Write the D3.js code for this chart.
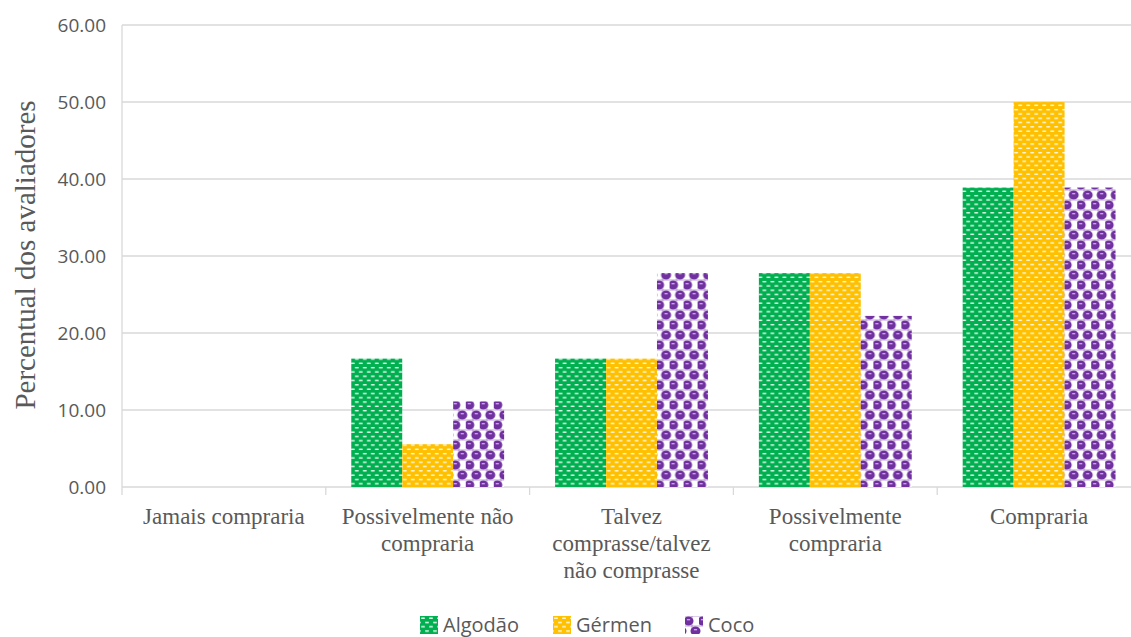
<!DOCTYPE html>
<html>
<head>
<meta charset="utf-8">
<script src="https://cdnjs.cloudflare.com/ajax/libs/d3/7.8.5/d3.min.js"></script>
<style>
  body { margin: 0; background: #fff; }
  svg { display: block; }
</style>
</head>
<body>
<script>
var width = 1131;
var height = 637;

var categories = ['Jamais compraria', 'Possivelmente não compraria', 'Talvez comprasse/talvez não comprasse', 'Possivelmente compraria', 'Compraria'];
var categoryLines = [['Jamais compraria'], ['Possivelmente não', 'compraria'], ['Talvez', 'comprasse/talvez', 'não comprasse'], ['Possivelmente', 'compraria'], ['Compraria']];
var seriesNames = ['Algodão', 'Gérmen', 'Coco'];
var algodao = [0, 16.67, 16.67, 27.78, 38.89];
var germen = [0, 5.56, 16.67, 27.78, 50.00];
var coco = [0, 11.11, 27.78, 22.22, 38.89];
var yTicks = [0, 10, 20, 30, 40, 50, 60];
var colors = ['#00b050', '#ffc000', '#7030a0'];

var seriesValues = [algodao, germen, coco];

var svg = d3.select('body').append('svg')
    .attr('width', width)
    .attr('height', height);

// patterns like the excel fills
var defs = svg.append('defs');

function dashPattern(id, color) {
  var p = defs.append('pattern')
      .attr('id', id)
      .attr('patternUnits', 'userSpaceOnUse')
      .attr('width', 8)
      .attr('height', 8.6);
  p.append('rect').attr('width', 8).attr('height', 8.6).attr('fill', color);
  [[1, 1.4], [5, 5.7], [-3, 5.7]].forEach(function(d) {
    p.append('rect')
        .attr('x', d[0]).attr('y', d[1])
        .attr('width', 4).attr('height', 1.5)
        .attr('rx', 0.7)
        .attr('fill', '#fff').attr('fill-opacity', 0.92);
  });
}
dashPattern('pat0', colors[0]);
dashPattern('pat1', colors[1]);

// sphere-like checkerboard for coco
var pc = defs.append('pattern')
    .attr('id', 'pat2')
    .attr('patternUnits', 'userSpaceOnUse')
    .attr('width', 14)
    .attr('height', 20);
pc.append('rect').attr('width', 14).attr('height', 20).attr('fill', '#fff');
var centers = [[3.5, 5], [10.5, 15], [-3.5, 15], [17.5, 15], [3.5, 25], [10.5, -5], [-3.5, -5], [17.5, -5], [-3.5, 25]];
// thin outline between the spheres
pc.append('path')
    .attr('d', 'M0,10H14M0,0H14M0,20H14M7,0V20')
    .attr('stroke', colors[2])
    .attr('stroke-opacity', 0.45)
    .attr('stroke-width', 1);
centers.forEach(function(d) {
  pc.append('ellipse')
      .attr('cx', d[0]).attr('cy', d[1])
      .attr('rx', 5).attr('ry', 4.5)
      .attr('fill', colors[2]);
  pc.append('rect')
      .attr('x', d[0] - 1.6).attr('y', d[1] - 1.8)
      .attr('width', 3.2).attr('height', 1.1)
      .attr('fill', '#fff').attr('fill-opacity', 0.7);
});

var plotLeft = 122, plotRight = 1141, plotTop = 25, plotBottom = 487;

var x0 = d3.scaleBand()
    .domain(categories)
    .range([plotLeft, plotRight]);

var x1 = d3.scaleBand()
    .domain(seriesNames)
    .range([x0.bandwidth() * 0.125, x0.bandwidth() * 0.875]);

var y = d3.scaleLinear()
    .domain([0, 60])
    .range([plotBottom, plotTop]);

// gridlines
svg.append('g')
  .selectAll('line')
  .data(yTicks)
  .enter().append('line')
    .attr('x1', plotLeft)
    .attr('x2', width)
    .attr('y1', function(d) { return y(d); })
    .attr('y2', function(d) { return y(d); })
    .attr('stroke', '#d9d9d9')
    .attr('stroke-width', 1.3);

// vertical axis line
svg.append('line')
    .attr('x1', plotLeft).attr('x2', plotLeft)
    .attr('y1', plotTop).attr('y2', plotBottom + 8)
    .attr('stroke', '#d9d9d9')
    .attr('stroke-width', 1.3);

// category separator ticks
svg.append('g')
  .selectAll('line')
  .data(categories.slice(1))
  .enter().append('line')
    .attr('x1', function(d) { return x0(d); })
    .attr('x2', function(d) { return x0(d); })
    .attr('y1', plotBottom)
    .attr('y2', plotBottom + 8)
    .attr('stroke', '#d9d9d9')
    .attr('stroke-width', 1.3);

// y tick labels
svg.append('g')
  .selectAll('text')
  .data(yTicks)
  .enter().append('text')
    .attr('x', 106)
    .attr('y', function(d) { return y(d); })
    .attr('dy', '0.35em')
    .attr('text-anchor', 'end')
    .style('font-family', '"Open Sans", sans-serif')
    .style('font-size', '19px')
    .attr('fill', '#595959')
    .text(function(d) { return d.toFixed(2); });

// bars
var groups = svg.append('g')
  .selectAll('g')
  .data(categories)
  .enter().append('g')
    .attr('transform', function(d) { return 'translate(' + x0(d) + ',0)'; });

groups.selectAll('rect')
  .data(function(d, i) {
    return seriesNames.map(function(s, j) { return {series: s, j: j, value: seriesValues[j][i]}; });
  })
  .enter().append('rect')
    .attr('x', function(d) { return x1(d.series); })
    .attr('y', function(d) { return y(d.value); })
    .attr('width', x1.bandwidth())
    .attr('height', function(d) { return y(0) - y(d.value); })
    .attr('fill', function(d) { return 'url(#pat' + d.j + ')'; });

// category labels
var catLabels = svg.append('g')
  .selectAll('text')
  .data(categories)
  .enter().append('text')
    .attr('text-anchor', 'middle')
    .attr('x', function(d) { return x0(d) + x0.bandwidth() / 2; })
    .attr('y', 524)
    .style('font-family', '"Liberation Serif", "Times New Roman", serif')
    .style('font-size', '23px')
    .attr('fill', '#595959');

catLabels.selectAll('tspan')
  .data(function(d, i) { return categoryLines[i]; })
  .enter().append('tspan')
    .attr('x', function() { return d3.select(this.parentNode).attr('x'); })
    .attr('dy', function(d, i) { return i === 0 ? 0 : 27; })
    .text(function(d) { return d; });

// y axis title
svg.append('text')
    .attr('transform', 'translate(35,255) rotate(-90)')
    .attr('text-anchor', 'middle')
    .style('font-family', '"Liberation Serif", "Times New Roman", serif')
    .style('font-size', '29px')
    .attr('fill', '#595959')
    .text('Percentual dos avaliadores');

// legend
var legendX = [420, 553, 685];
var legend = svg.append('g')
  .selectAll('g')
  .data(seriesNames)
  .enter().append('g')
    .attr('transform', function(d, i) { return 'translate(' + legendX[i] + ',616)'; });

legend.append('rect')
    .attr('width', 18)
    .attr('height', 18)
    .attr('fill', function(d, i) { return 'url(#pat' + i + ')'; });

legend.append('text')
    .attr('x', 23)
    .attr('y', 9)
    .attr('dy', '0.35em')
    .style('font-family', '"Open Sans", sans-serif')
    .style('font-size', '20px')
    .attr('fill', '#595959')
    .text(function(d) { return d; });
</script>
</body>
</html>
